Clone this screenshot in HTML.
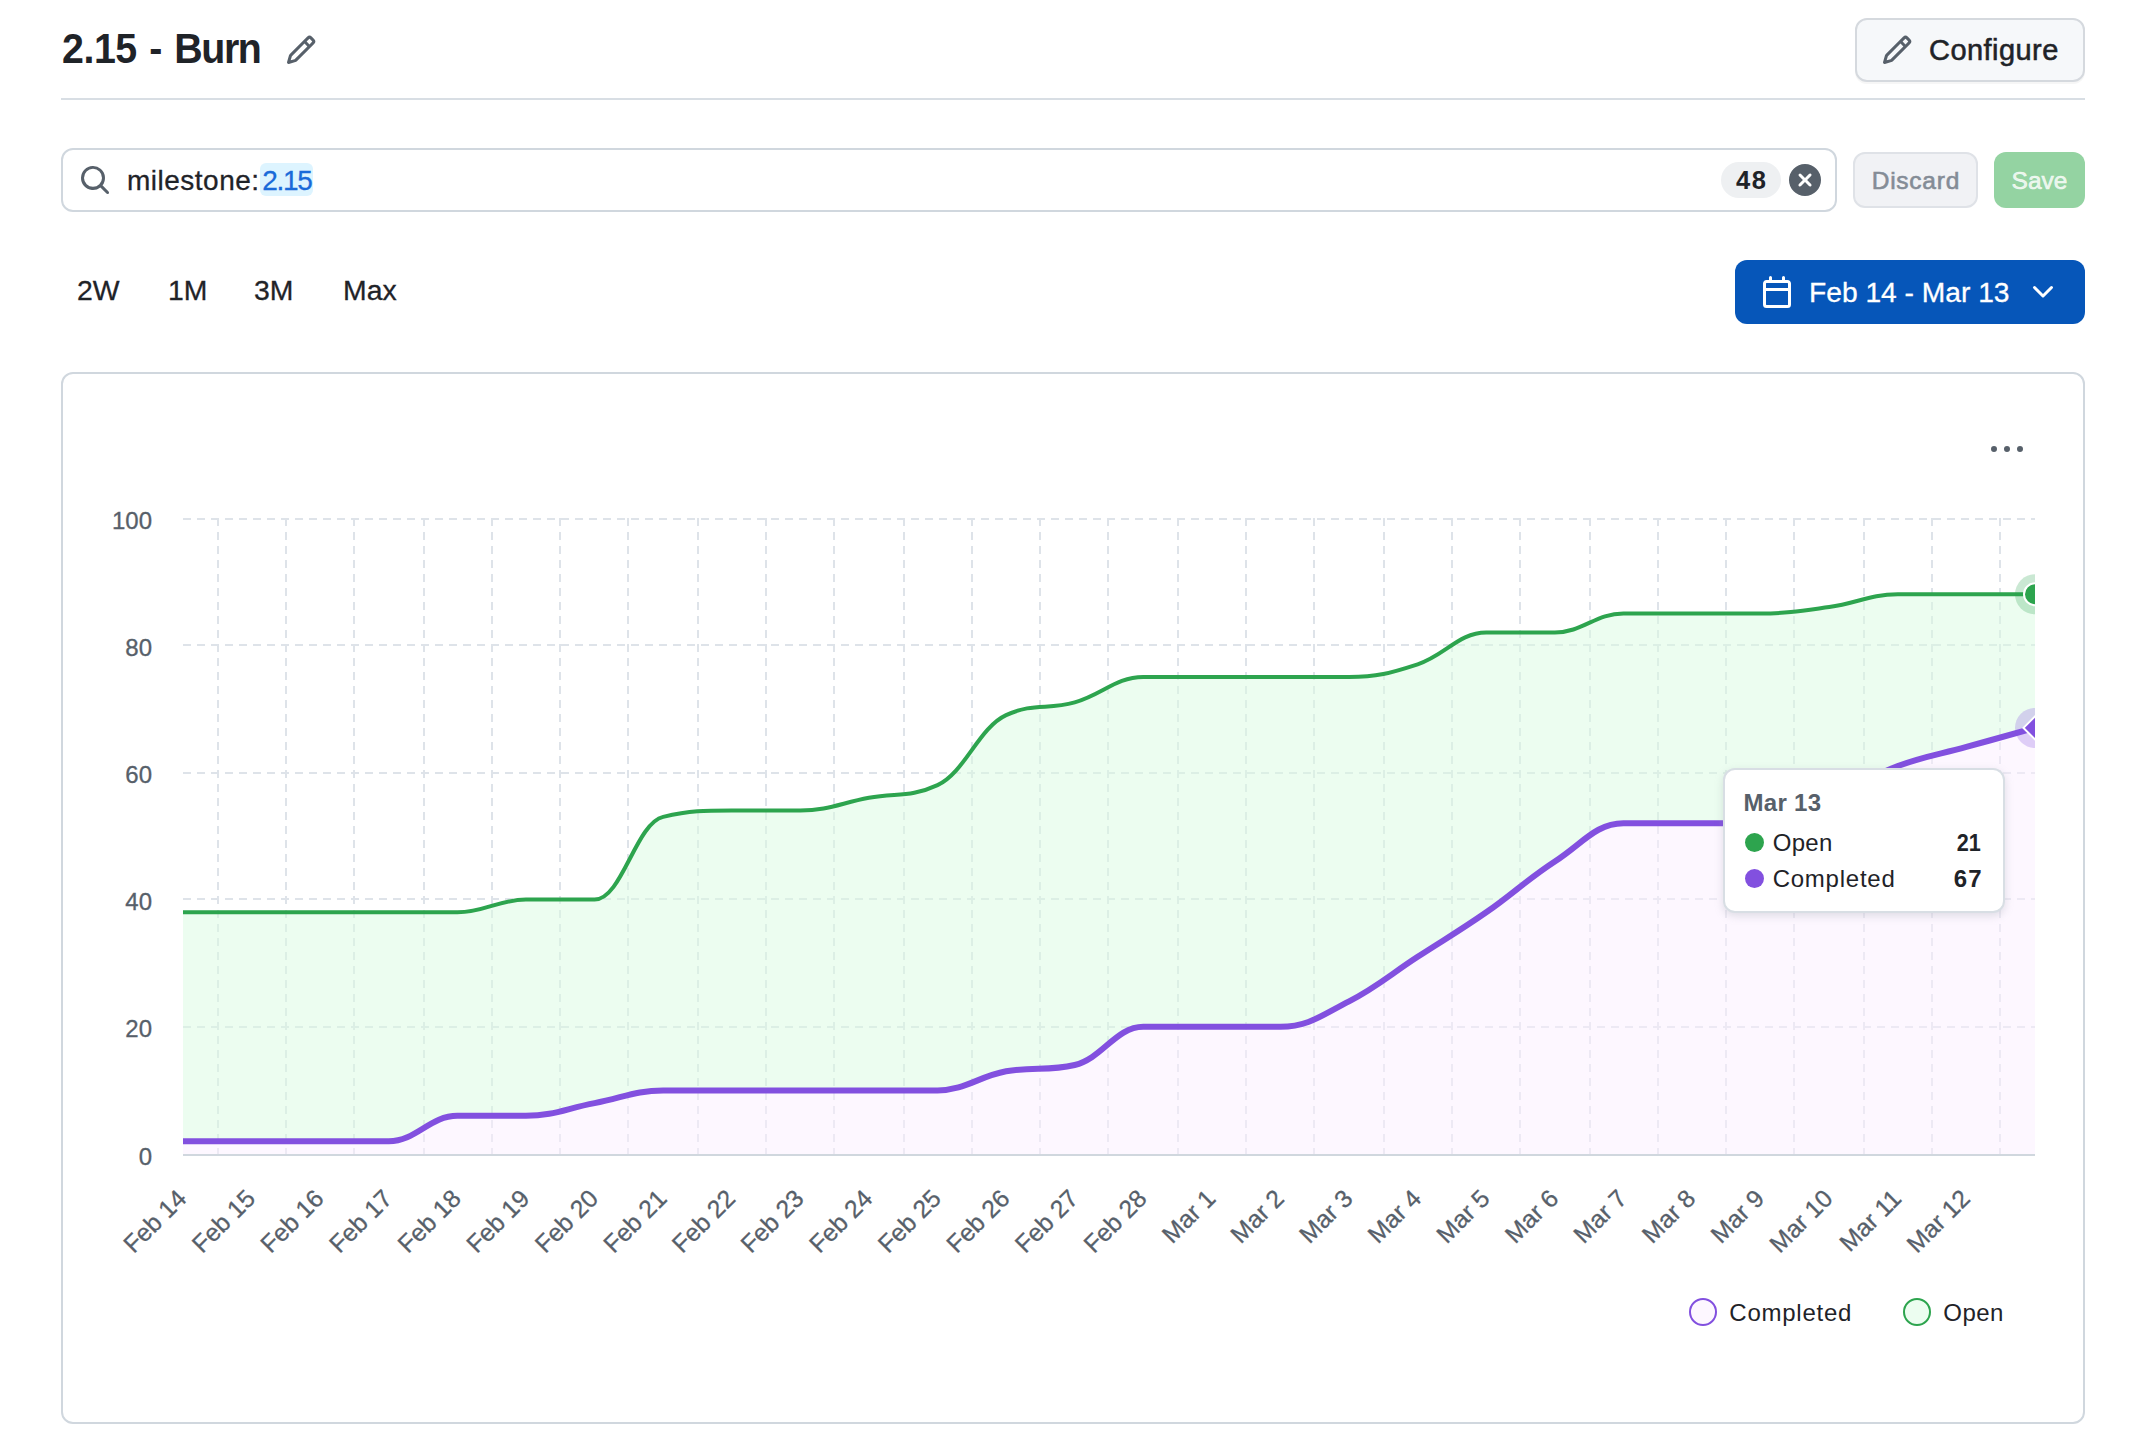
<!DOCTYPE html>
<html><head><meta charset="utf-8"><title>2.15 - Burn</title>
<style>
html,body{margin:0;padding:0;background:#fff;}
body{width:2148px;height:1444px;position:relative;overflow:hidden;font-family:"Liberation Sans",sans-serif;color:#1f2328;}
.abs{position:absolute;white-space:nowrap;}
.btn{position:absolute;box-sizing:border-box;border-radius:12px;}
svg{position:absolute;overflow:visible;}
#title{left:62px;top:22px;font-size:43px;font-weight:bold;line-height:52px;letter-spacing:-0.5px;word-spacing:2.1px;transform-origin:0 0;transform:scaleX(0.915);}
#hr{left:61px;top:97.5px;width:2024px;height:2px;background:#d8dee4;}
#cfg{left:1855px;top:18px;width:230px;height:64px;background:#f6f8fa;border:2px solid #d5d9de;box-shadow:0 2px 0 rgba(27,31,36,0.04);}
#cfgt{left:1929px;top:30px;font-size:29px;line-height:40px;letter-spacing:0.45px;-webkit-text-stroke:0.55px #1f2328;}
#search{left:61px;top:148px;width:1776px;height:64px;border:2px solid #d0d7de;background:#fff;}
#q{left:127px;top:160.5px;font-size:28px;line-height:40px;letter-spacing:0.5px;-webkit-text-stroke:0.3px #1f2328;}
#q span{color:#1a6ad9;margin-left:2.5px;letter-spacing:-1.3px;-webkit-text-stroke:0.3px #1a6ad9;}
#cnt{left:1721px;top:162px;width:60px;height:36px;border-radius:18px;background:#eef0f2;font-size:25.5px;font-weight:bold;line-height:36.8px;text-align:center;letter-spacing:1.4px;text-indent:1.4px;}
#discard{left:1853px;top:152px;width:125px;height:56px;background:#f1f2f5;border:2px solid #dfe2e7;color:#848c96;font-size:24.5px;line-height:53px;text-align:center;letter-spacing:0.75px;text-indent:0.75px;-webkit-text-stroke:0.6px #848c96;}
#save{left:1994px;top:152px;width:91px;height:56px;background:#94d3a2;color:rgba(255,255,255,0.8);font-size:24.5px;line-height:57.8px;text-align:center;letter-spacing:0px;-webkit-text-stroke:0.6px rgba(255,255,255,0.8);}
.rng{font-size:28.4px;line-height:40px;top:270px;-webkit-text-stroke:0.3px #1f2328;}
#date{left:1735px;top:260px;width:350px;height:64px;background:#0656b9;}
#datet{left:1809px;top:271.5px;font-size:28.2px;-webkit-text-stroke:0.3px #fff;line-height:40px;color:#fff;}
#card{left:61px;top:372px;width:2024px;height:1052px;border:2px solid #d0d7de;box-sizing:border-box;border-radius:12px;}
#chart text{font-family:"Liberation Sans",sans-serif;font-size:24px;fill:#57606a;stroke:#57606a;stroke-width:0.3px;}
#chart .xl text{font-size:24.7px;}
#chart .grid line{stroke:#dee3e9;stroke-width:2;stroke-dasharray:8 6;}
#tip{left:1722.5px;top:767.5px;width:282px;height:145.5px;box-sizing:border-box;background:#fff;border-radius:12px;border:2px solid #d8dee4;box-shadow:0 3px 8px rgba(140,149,159,0.27);}
.tt{font-size:24px;line-height:32px;}
.lg{font-size:24px;line-height:32px;top:1296.5px;}
</style></head><body>
<div id="title" class="abs">2.15 - <span style="letter-spacing:-1.5px">Burn</span></div>
<svg style="left:284.7px;top:33.5px" width="32" height="32" viewBox="0 0 16 16"><path fill="#57606a" d="M11.013 1.427a1.75 1.75 0 0 1 2.474 0l1.086 1.086a1.75 1.75 0 0 1 0 2.474l-8.61 8.61c-.21.21-.47.364-.756.445l-3.251.93a.75.75 0 0 1-.927-.928l.929-3.25c.081-.286.235-.547.445-.758l8.61-8.61Zm.176 4.823L9.75 4.81l-6.286 6.287a.253.253 0 0 0-.064.108l-.558 1.953 1.953-.558a.253.253 0 0 0 .108-.064Zm1.238-3.763a.25.25 0 0 0-.354 0L10.811 3.75l1.439 1.44 1.263-1.263a.25.25 0 0 0 0-.354Z"/></svg>
<div id="cfg" class="btn"></div>
<svg style="left:1881px;top:34px" width="32" height="32" viewBox="0 0 16 16"><path fill="#57606a" d="M11.013 1.427a1.75 1.75 0 0 1 2.474 0l1.086 1.086a1.75 1.75 0 0 1 0 2.474l-8.61 8.61c-.21.21-.47.364-.756.445l-3.251.93a.75.75 0 0 1-.927-.928l.929-3.25c.081-.286.235-.547.445-.758l8.61-8.61Zm.176 4.823L9.75 4.81l-6.286 6.287a.253.253 0 0 0-.064.108l-.558 1.953 1.953-.558a.253.253 0 0 0 .108-.064Zm1.238-3.763a.25.25 0 0 0-.354 0L10.811 3.75l1.439 1.44 1.263-1.263a.25.25 0 0 0 0-.354Z"/></svg>
<div id="cfgt" class="abs">Configure</div>
<div id="hr" class="abs"></div>

<div id="search" class="btn"></div>
<svg style="left:79px;top:164px" width="32" height="32" viewBox="0 0 16 16"><path fill="#57606a" d="M10.68 11.74a6 6 0 0 1-7.922-8.982 6 6 0 0 1 8.982 7.922l3.04 3.04a.749.749 0 0 1-.326 1.275.749.749 0 0 1-.734-.215ZM11.5 7a4.499 4.499 0 1 0-8.997 0A4.499 4.499 0 0 0 11.5 7Z"/></svg>
<div class="abs" style="left:260px;top:163px;width:53px;height:32.5px;border-radius:6px;background:#ddf4ff"></div>
<div id="q" class="abs">milestone:<span>2.15</span></div>
<div id="cnt" class="abs">48</div>
<svg style="left:1789px;top:164px" width="32" height="32" viewBox="0 0 16 16"><path fill="#57606a" d="M2.343 13.657A8 8 0 1 1 13.658 2.343 8 8 0 0 1 2.343 13.657ZM6.03 4.97a.751.751 0 0 0-1.042.018.751.751 0 0 0-.018 1.042L6.94 8 4.97 9.97a.749.749 0 0 0 .326 1.275.749.749 0 0 0 .734-.215L8 9.06l1.97 1.97a.749.749 0 0 0 1.275-.326.749.749 0 0 0-.215-.734L9.06 8l1.97-1.97a.749.749 0 0 0-.326-1.275.749.749 0 0 0-.734.215L8 6.94Z"/></svg>
<div id="discard" class="btn">Discard</div>
<div id="save" class="btn">Save</div>

<div class="abs rng" style="left:77px">2W</div>
<div class="abs rng" style="left:168px">1M</div>
<div class="abs rng" style="left:254px">3M</div>
<div class="abs rng" style="left:343px">Max</div>

<div id="date" class="btn"></div>
<svg style="left:1761px;top:276px" width="32" height="32" viewBox="0 0 16 16"><path fill="#fff" d="M4.75 0a.75.75 0 0 1 .75.75V2h5V.75a.75.75 0 0 1 1.5 0V2h1.25c.966 0 1.75.784 1.75 1.75v10.5A1.75 1.75 0 0 1 13.25 16H2.75A1.75 1.75 0 0 1 1 14.25V3.75C1 2.784 1.784 2 2.75 2H4V.75A.75.75 0 0 1 4.75 0ZM2.5 7.5v6.75c0 .138.112.25.25.25h10.5a.25.25 0 0 0 .25-.25V7.5Zm10.75-4H2.75a.25.25 0 0 0-.25.25V6h11V3.75a.25.25 0 0 0-.25-.25Z"/></svg>
<div id="datet" class="abs">Feb 14 - Mar 13</div>
<svg style="left:2027px;top:276px" width="32" height="32" viewBox="0 0 16 16"><path fill="#fff" d="M12.78 5.22a.749.749 0 0 1 0 1.06l-4.25 4.25a.749.749 0 0 1-1.06 0L3.22 6.28a.749.749 0 1 1 1.06-1.06L8 8.939l3.72-3.719a.749.749 0 0 1 1.06 0Z"/></svg>

<div id="card" class="abs"></div>
<svg style="left:1991px;top:434px" width="32" height="32" viewBox="0 0 16 16"><path fill="#57606a" d="M8 9a1.5 1.5 0 1 0 0-3 1.5 1.5 0 0 0 0 3ZM1.5 9a1.5 1.5 0 1 0 0-3 1.5 1.5 0 0 0 0 3Zm13 0a1.5 1.5 0 1 0 0-3 1.5 1.5 0 0 0 0 3Z"/></svg>

<svg id="chart" style="left:0;top:0" width="2148" height="1444" viewBox="0 0 2148 1444">
<defs><clipPath id="plot"><rect x="183" y="508" width="1852" height="647"/></clipPath></defs>
<g class="grid"><line x1="183.0" x2="2035.0" y1="519.0" y2="519.0"/><line x1="183.0" x2="2035.0" y1="645.0" y2="645.0"/><line x1="183.0" x2="2035.0" y1="773.0" y2="773.0"/><line x1="183.0" x2="2035.0" y1="899.0" y2="899.0"/><line x1="183.0" x2="2035.0" y1="1027.0" y2="1027.0"/><line x1="218.0" x2="218.0" y1="518.0" y2="1154.0"/><line x1="286.0" x2="286.0" y1="518.0" y2="1154.0"/><line x1="354.0" x2="354.0" y1="518.0" y2="1154.0"/><line x1="424.0" x2="424.0" y1="518.0" y2="1154.0"/><line x1="492.0" x2="492.0" y1="518.0" y2="1154.0"/><line x1="560.0" x2="560.0" y1="518.0" y2="1154.0"/><line x1="628.0" x2="628.0" y1="518.0" y2="1154.0"/><line x1="698.0" x2="698.0" y1="518.0" y2="1154.0"/><line x1="766.0" x2="766.0" y1="518.0" y2="1154.0"/><line x1="834.0" x2="834.0" y1="518.0" y2="1154.0"/><line x1="904.0" x2="904.0" y1="518.0" y2="1154.0"/><line x1="972.0" x2="972.0" y1="518.0" y2="1154.0"/><line x1="1040.0" x2="1040.0" y1="518.0" y2="1154.0"/><line x1="1108.0" x2="1108.0" y1="518.0" y2="1154.0"/><line x1="1178.0" x2="1178.0" y1="518.0" y2="1154.0"/><line x1="1246.0" x2="1246.0" y1="518.0" y2="1154.0"/><line x1="1314.0" x2="1314.0" y1="518.0" y2="1154.0"/><line x1="1384.0" x2="1384.0" y1="518.0" y2="1154.0"/><line x1="1452.0" x2="1452.0" y1="518.0" y2="1154.0"/><line x1="1520.0" x2="1520.0" y1="518.0" y2="1154.0"/><line x1="1590.0" x2="1590.0" y1="518.0" y2="1154.0"/><line x1="1658.0" x2="1658.0" y1="518.0" y2="1154.0"/><line x1="1726.0" x2="1726.0" y1="518.0" y2="1154.0"/><line x1="1794.0" x2="1794.0" y1="518.0" y2="1154.0"/><line x1="1864.0" x2="1864.0" y1="518.0" y2="1154.0"/><line x1="1932.0" x2="1932.0" y1="518.0" y2="1154.0"/><line x1="2000.0" x2="2000.0" y1="518.0" y2="1154.0"/></g>
<path d="M 183.00 1141.28 C 183.00 1141.28 224.16 1141.28 251.59 1141.28 C 279.03 1141.28 292.75 1141.28 320.19 1141.28 C 347.62 1141.28 361.34 1141.28 388.78 1141.28 C 416.21 1141.28 429.93 1115.84 457.37 1115.84 C 484.81 1115.84 498.53 1115.84 525.96 1115.84 C 553.40 1115.84 567.12 1108.21 594.56 1103.12 C 621.99 1098.03 635.71 1090.40 663.15 1090.40 C 690.59 1090.40 704.30 1090.40 731.74 1090.40 C 759.18 1090.40 772.90 1090.40 800.33 1090.40 C 827.77 1090.40 841.49 1090.40 868.93 1090.40 C 896.36 1090.40 910.08 1090.40 937.52 1090.40 C 964.96 1090.40 978.67 1076.41 1006.11 1071.32 C 1033.55 1066.23 1047.27 1071.32 1074.70 1064.96 C 1102.14 1058.60 1115.86 1026.80 1143.30 1026.80 C 1170.73 1026.80 1184.45 1026.80 1211.89 1026.80 C 1239.33 1026.80 1253.04 1026.80 1280.48 1026.80 C 1307.92 1026.80 1321.64 1015.35 1349.07 1001.36 C 1376.51 987.37 1390.23 974.65 1417.67 956.84 C 1445.10 939.03 1458.82 931.40 1486.26 912.32 C 1513.70 893.24 1527.41 879.25 1554.85 861.44 C 1582.29 843.63 1596.01 823.28 1623.44 823.28 C 1650.88 823.28 1664.60 823.28 1692.04 823.28 C 1719.47 823.28 1733.19 823.28 1760.63 823.28 C 1788.07 823.28 1801.79 809.29 1829.22 797.84 C 1856.66 786.39 1870.38 776.22 1897.81 766.04 C 1925.25 755.86 1938.97 754.59 1966.41 746.96 C 1993.84 739.33 2035.00 727.88 2035.00 727.88 L 2035.00 1154.00 L 183.00 1154.00 Z" fill="#fbefff" fill-opacity="0.5"/>
<path d="M 183.00 912.32 C 183.00 912.32 224.16 912.32 251.59 912.32 C 279.03 912.32 292.75 912.32 320.19 912.32 C 347.62 912.32 361.34 912.32 388.78 912.32 C 416.21 912.32 429.93 912.32 457.37 912.32 C 484.81 912.32 498.53 899.60 525.96 899.60 C 553.40 899.60 567.12 899.60 594.56 899.60 C 621.99 899.60 635.71 823.28 663.15 816.92 C 690.59 810.56 704.30 810.56 731.74 810.56 C 759.18 810.56 772.90 810.56 800.33 810.56 C 827.77 810.56 841.49 802.93 868.93 797.84 C 896.36 792.75 910.08 797.84 937.52 785.12 C 964.96 772.40 978.67 727.88 1006.11 715.16 C 1033.55 702.44 1047.27 710.07 1074.70 702.44 C 1102.14 694.81 1115.86 677.00 1143.30 677.00 C 1170.73 677.00 1184.45 677.00 1211.89 677.00 C 1239.33 677.00 1253.04 677.00 1280.48 677.00 C 1307.92 677.00 1321.64 677.00 1349.07 677.00 C 1376.51 677.00 1390.23 673.18 1417.67 664.28 C 1445.10 655.38 1458.82 632.48 1486.26 632.48 C 1513.70 632.48 1527.41 632.48 1554.85 632.48 C 1582.29 632.48 1596.01 613.40 1623.44 613.40 C 1650.88 613.40 1664.60 613.40 1692.04 613.40 C 1719.47 613.40 1733.19 613.40 1760.63 613.40 C 1788.07 613.40 1801.79 610.86 1829.22 607.04 C 1856.66 603.22 1870.38 594.32 1897.81 594.32 C 1925.25 594.32 1938.97 594.32 1966.41 594.32 C 1993.84 594.32 2035.00 594.32 2035.00 594.32 L 2035.00 727.88 C 2035.00 727.88 1993.84 739.33 1966.41 746.96 C 1938.97 754.59 1925.25 755.86 1897.81 766.04 C 1870.38 776.22 1856.66 786.39 1829.22 797.84 C 1801.79 809.29 1788.07 823.28 1760.63 823.28 C 1733.19 823.28 1719.47 823.28 1692.04 823.28 C 1664.60 823.28 1650.88 823.28 1623.44 823.28 C 1596.01 823.28 1582.29 843.63 1554.85 861.44 C 1527.41 879.25 1513.70 893.24 1486.26 912.32 C 1458.82 931.40 1445.10 939.03 1417.67 956.84 C 1390.23 974.65 1376.51 987.37 1349.07 1001.36 C 1321.64 1015.35 1307.92 1026.80 1280.48 1026.80 C 1253.04 1026.80 1239.33 1026.80 1211.89 1026.80 C 1184.45 1026.80 1170.73 1026.80 1143.30 1026.80 C 1115.86 1026.80 1102.14 1058.60 1074.70 1064.96 C 1047.27 1071.32 1033.55 1066.23 1006.11 1071.32 C 978.67 1076.41 964.96 1090.40 937.52 1090.40 C 910.08 1090.40 896.36 1090.40 868.93 1090.40 C 841.49 1090.40 827.77 1090.40 800.33 1090.40 C 772.90 1090.40 759.18 1090.40 731.74 1090.40 C 704.30 1090.40 690.59 1090.40 663.15 1090.40 C 635.71 1090.40 621.99 1098.03 594.56 1103.12 C 567.12 1108.21 553.40 1115.84 525.96 1115.84 C 498.53 1115.84 484.81 1115.84 457.37 1115.84 C 429.93 1115.84 416.21 1141.28 388.78 1141.28 C 361.34 1141.28 347.62 1141.28 320.19 1141.28 C 292.75 1141.28 279.03 1141.28 251.59 1141.28 C 224.16 1141.28 183.00 1141.28 183.00 1141.28 Z" fill="#dafbe1" fill-opacity="0.5"/>
<line x1="183" x2="2035" y1="1155" y2="1155" stroke="#d0d7de" stroke-width="2"/>
<g clip-path="url(#plot)">
<path d="M 183.00 912.32 C 183.00 912.32 224.16 912.32 251.59 912.32 C 279.03 912.32 292.75 912.32 320.19 912.32 C 347.62 912.32 361.34 912.32 388.78 912.32 C 416.21 912.32 429.93 912.32 457.37 912.32 C 484.81 912.32 498.53 899.60 525.96 899.60 C 553.40 899.60 567.12 899.60 594.56 899.60 C 621.99 899.60 635.71 823.28 663.15 816.92 C 690.59 810.56 704.30 810.56 731.74 810.56 C 759.18 810.56 772.90 810.56 800.33 810.56 C 827.77 810.56 841.49 802.93 868.93 797.84 C 896.36 792.75 910.08 797.84 937.52 785.12 C 964.96 772.40 978.67 727.88 1006.11 715.16 C 1033.55 702.44 1047.27 710.07 1074.70 702.44 C 1102.14 694.81 1115.86 677.00 1143.30 677.00 C 1170.73 677.00 1184.45 677.00 1211.89 677.00 C 1239.33 677.00 1253.04 677.00 1280.48 677.00 C 1307.92 677.00 1321.64 677.00 1349.07 677.00 C 1376.51 677.00 1390.23 673.18 1417.67 664.28 C 1445.10 655.38 1458.82 632.48 1486.26 632.48 C 1513.70 632.48 1527.41 632.48 1554.85 632.48 C 1582.29 632.48 1596.01 613.40 1623.44 613.40 C 1650.88 613.40 1664.60 613.40 1692.04 613.40 C 1719.47 613.40 1733.19 613.40 1760.63 613.40 C 1788.07 613.40 1801.79 610.86 1829.22 607.04 C 1856.66 603.22 1870.38 594.32 1897.81 594.32 C 1925.25 594.32 1938.97 594.32 1966.41 594.32 C 1993.84 594.32 2035.00 594.32 2035.00 594.32" fill="none" stroke="#2da44e" stroke-width="4" stroke-linejoin="round" stroke-linecap="round"/>
<path d="M 183.00 1141.28 C 183.00 1141.28 224.16 1141.28 251.59 1141.28 C 279.03 1141.28 292.75 1141.28 320.19 1141.28 C 347.62 1141.28 361.34 1141.28 388.78 1141.28 C 416.21 1141.28 429.93 1115.84 457.37 1115.84 C 484.81 1115.84 498.53 1115.84 525.96 1115.84 C 553.40 1115.84 567.12 1108.21 594.56 1103.12 C 621.99 1098.03 635.71 1090.40 663.15 1090.40 C 690.59 1090.40 704.30 1090.40 731.74 1090.40 C 759.18 1090.40 772.90 1090.40 800.33 1090.40 C 827.77 1090.40 841.49 1090.40 868.93 1090.40 C 896.36 1090.40 910.08 1090.40 937.52 1090.40 C 964.96 1090.40 978.67 1076.41 1006.11 1071.32 C 1033.55 1066.23 1047.27 1071.32 1074.70 1064.96 C 1102.14 1058.60 1115.86 1026.80 1143.30 1026.80 C 1170.73 1026.80 1184.45 1026.80 1211.89 1026.80 C 1239.33 1026.80 1253.04 1026.80 1280.48 1026.80 C 1307.92 1026.80 1321.64 1015.35 1349.07 1001.36 C 1376.51 987.37 1390.23 974.65 1417.67 956.84 C 1445.10 939.03 1458.82 931.40 1486.26 912.32 C 1513.70 893.24 1527.41 879.25 1554.85 861.44 C 1582.29 843.63 1596.01 823.28 1623.44 823.28 C 1650.88 823.28 1664.60 823.28 1692.04 823.28 C 1719.47 823.28 1733.19 823.28 1760.63 823.28 C 1788.07 823.28 1801.79 809.29 1829.22 797.84 C 1856.66 786.39 1870.38 776.22 1897.81 766.04 C 1925.25 755.86 1938.97 754.59 1966.41 746.96 C 1993.84 739.33 2035.00 727.88 2035.00 727.88" fill="none" stroke="#8250df" stroke-width="6" stroke-linejoin="round" stroke-linecap="round"/>
<circle cx="2035" cy="594.3" r="20" fill="#2da44e" fill-opacity="0.25"/>
<circle cx="2035" cy="594.3" r="11" fill="#2da44e" stroke="#fff" stroke-width="2"/>
<circle cx="2035" cy="727.9" r="20" fill="#8250df" fill-opacity="0.25"/>
<path transform="translate(2035,727.9)" d="M0 -11.5 L11.5 0 L0 11.5 L-11.5 0 Z" fill="#8250df" stroke="#fff" stroke-width="2"/>
</g>
<g><text x="152" y="1164.6" text-anchor="end">0</text><text x="152" y="1037.4" text-anchor="end">20</text><text x="152" y="910.2" text-anchor="end">40</text><text x="152" y="783.0" text-anchor="end">60</text><text x="152" y="655.8" text-anchor="end">80</text><text x="152" y="528.6" text-anchor="end">100</text></g>
<g class="xl"><text transform="translate(188.0,1200.0) rotate(-45)" text-anchor="end">Feb 14</text><text transform="translate(256.6,1200.0) rotate(-45)" text-anchor="end">Feb 15</text><text transform="translate(325.2,1200.0) rotate(-45)" text-anchor="end">Feb 16</text><text transform="translate(393.8,1200.0) rotate(-45)" text-anchor="end">Feb 17</text><text transform="translate(462.4,1200.0) rotate(-45)" text-anchor="end">Feb 18</text><text transform="translate(531.0,1200.0) rotate(-45)" text-anchor="end">Feb 19</text><text transform="translate(599.6,1200.0) rotate(-45)" text-anchor="end">Feb 20</text><text transform="translate(668.1,1200.0) rotate(-45)" text-anchor="end">Feb 21</text><text transform="translate(736.7,1200.0) rotate(-45)" text-anchor="end">Feb 22</text><text transform="translate(805.3,1200.0) rotate(-45)" text-anchor="end">Feb 23</text><text transform="translate(873.9,1200.0) rotate(-45)" text-anchor="end">Feb 24</text><text transform="translate(942.5,1200.0) rotate(-45)" text-anchor="end">Feb 25</text><text transform="translate(1011.1,1200.0) rotate(-45)" text-anchor="end">Feb 26</text><text transform="translate(1079.7,1200.0) rotate(-45)" text-anchor="end">Feb 27</text><text transform="translate(1148.3,1200.0) rotate(-45)" text-anchor="end">Feb 28</text><text transform="translate(1216.9,1200.0) rotate(-45)" text-anchor="end">Mar 1</text><text transform="translate(1285.5,1200.0) rotate(-45)" text-anchor="end">Mar 2</text><text transform="translate(1354.1,1200.0) rotate(-45)" text-anchor="end">Mar 3</text><text transform="translate(1422.7,1200.0) rotate(-45)" text-anchor="end">Mar 4</text><text transform="translate(1491.3,1200.0) rotate(-45)" text-anchor="end">Mar 5</text><text transform="translate(1559.9,1200.0) rotate(-45)" text-anchor="end">Mar 6</text><text transform="translate(1628.4,1200.0) rotate(-45)" text-anchor="end">Mar 7</text><text transform="translate(1697.0,1200.0) rotate(-45)" text-anchor="end">Mar 8</text><text transform="translate(1765.6,1200.0) rotate(-45)" text-anchor="end">Mar 9</text><text transform="translate(1834.2,1200.0) rotate(-45)" text-anchor="end">Mar 10</text><text transform="translate(1902.8,1200.0) rotate(-45)" text-anchor="end">Mar 11</text><text transform="translate(1971.4,1200.0) rotate(-45)" text-anchor="end">Mar 12</text></g>
</svg>

<div id="tip" class="abs"></div>
<div class="abs tt" style="left:1743.5px;top:787px;font-weight:bold;color:#57606a;letter-spacing:0.3px;">Mar 13</div>
<div class="abs" style="left:1744.7px;top:833px;width:19px;height:19px;border-radius:50%;background:#2da44e"></div>
<div class="abs tt" style="left:1772.7px;top:826.5px;letter-spacing:0.3px;">Open</div>
<div class="abs tt" style="left:1900px;width:81.2px;text-align:right;top:826.5px;font-weight:bold;"><span style="display:inline-block;transform:scaleX(0.9);transform-origin:100% 50%;">21</span></div>
<div class="abs" style="left:1744.7px;top:869px;width:19px;height:19px;border-radius:50%;background:#8250df"></div>
<div class="abs tt" style="left:1772.7px;top:863px;letter-spacing:0.75px;">Completed</div>
<div class="abs tt" style="left:1900px;width:82.8px;text-align:right;top:863px;font-weight:bold;letter-spacing:1.2px;">67</div>

<div class="abs" style="left:1689px;top:1298px;width:28px;height:28px;box-sizing:border-box;border-radius:50%;border:2px solid #8250df;background:#fdf7ff"></div>
<div class="abs lg" style="left:1729.3px;letter-spacing:0.75px;">Completed</div>
<div class="abs" style="left:1903px;top:1298px;width:28px;height:28px;box-sizing:border-box;border-radius:50%;border:2px solid #2da44e;background:#ecfdf0"></div>
<div class="abs lg" style="left:1943.3px;letter-spacing:0.45px;">Open</div>
</body></html>
